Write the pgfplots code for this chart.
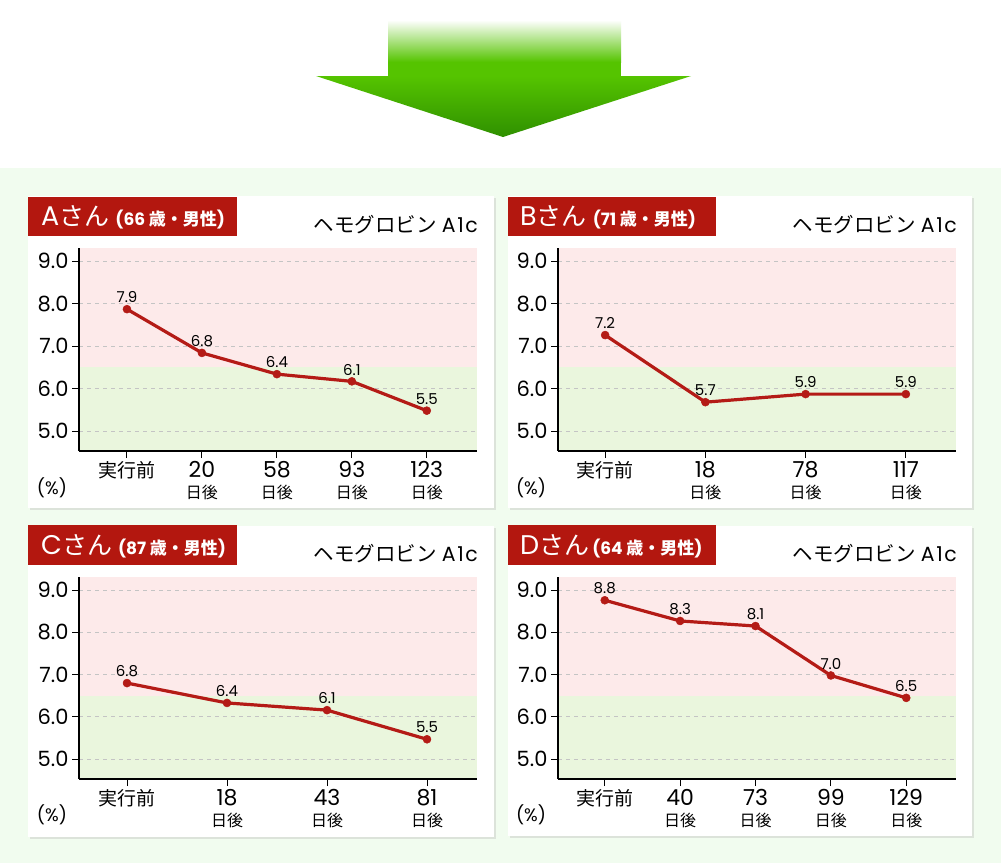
\documentclass[border=0pt]{standalone}
\usepackage{fontspec}
\setmainfont{Poppins}
\newfontfamily\jp{Noto Sans CJK JP}
\usepackage{pgfplots}
\pgfplotsset{compat=1.18}
\definecolor{mint}{HTML}{F1FCEF}
\definecolor{pinkband}{HTML}{FDEAEA}
\definecolor{greenband}{HTML}{EAF6DD}
\definecolor{titlered}{HTML}{B3170F}
\definecolor{linered}{HTML}{B41B16}
\definecolor{agreen}{HTML}{55C400}
\definecolor{dgreen}{HTML}{2F9000}
\definecolor{gridgray}{HTML}{C4C4C4}
\definecolor{shadowgray}{HTML}{DCE3DA}

\tikzset{gridl/.style={gridgray, dash pattern=on 4pt off 4pt, line width=0.9pt}}
\pgfplotsset{panel/.style={
  scale only axis, width=398pt, anchor=south west, axis on top,
  ymin=4.53, ymax=9.31,
  axis x line*=bottom, axis y line*=left,
  axis line style={line width=2pt, black, -},
  ytick={5,6,7,8,9}, yticklabels={5.0,6.0,7.0,8.0,9.0},
  yticklabel style={font=\fontsize{21}{21}\selectfont},
  tick align=outside, major tick length=7pt, tick style={line width=1pt, black},
  xticklabel style={align=center, font=\fontsize{22}{22}\selectfont},
  every node near coord/.append style={anchor=south, inner sep=0pt, yshift=6pt, font=\fontsize{15}{15}\selectfont, black},
},
dataline/.style={linered, line width=3.2pt, line join=round, mark=*, mark size=4pt,
  mark options={fill=linered, draw=linered, line width=0.5pt},
  nodes near coords, point meta=explicit symbolic}
}
\newcommand{\nd}[1]{#1\\[-1pt]{\jp\fontsize{16}{16}\selectfont 日後}}
\newcommand{\pre}{{\jp\fontsize{19}{19}\selectfont 実行前}}
\newcommand{\bands}[2]{%
  \fill[pinkband] (#1,6.5) rectangle (#2,9.31);
  \fill[greenband] (#1,4.53) rectangle (#2,6.5);
  \draw[gridl] (#1,5) -- (#2,5);
  \draw[gridl] (#1,6) -- (#2,6);
  \draw[gridl] (#1,7) -- (#2,7);
  \draw[gridl] (#1,8) -- (#2,8);
  \draw[gridl] (#1,9) -- (#2,9);
}

\begin{document}
\begin{tikzpicture}
\begin{scope}[x=1pt,y=-1pt]
  % page background
  \fill[mint] (0,0) rectangle (1001,863);
  \fill[white] (0,0) rectangle (1001,168);
  % arrow
  \shade[top color=white, bottom color=agreen] (388,20) rectangle (621,62);
  \fill[agreen] (388,61.5) rectangle (621,77);
  \shade[top color=agreen, bottom color=dgreen] (316,76) -- (691,76) -- (503,137) -- cycle;
  % cards
  \foreach \cx/\cy/\cw/\ch in {28/196/466/312, 508/196/464/312, 28/526/466/311, 508/526/464/310}{
    \fill[shadowgray] (\cx+2,\cy+2) rectangle (\cx+\cw+2,\cy+\ch+2);
    \fill[white] (\cx,\cy) rectangle (\cx+\cw,\cy+\ch);
  }
  % title boxes
  \fill[titlered] (28,197) rectangle (237,236);
  \fill[titlered] (508,197) rectangle (716,236);
  \fill[titlered] (28,525) rectangle (237,565);
  \fill[titlered] (508,525) rectangle (716,565);
  \node[anchor=west, white, inner sep=0pt] at (41,217) {\fontsize{27}{27}\selectfont A{\jp\fontsize{25}{25}\selectfont さん}\hspace{6pt}\fontsize{17}{17}\selectfont\bfseries (66 {\jp 歳・男性})};
  \node[anchor=west, white, inner sep=0pt] at (520,217) {\fontsize{27}{27}\selectfont B{\jp\fontsize{25}{25}\selectfont さん}\hspace{6pt}\fontsize{17}{17}\selectfont\bfseries (71 {\jp 歳・男性})};
  \node[anchor=west, white, inner sep=0pt] at (41,546) {\fontsize{27}{27}\selectfont C{\jp\fontsize{25}{25}\selectfont さん}\hspace{6pt}\fontsize{17}{17}\selectfont\bfseries (87 {\jp 歳・男性})};
  \node[anchor=west, white, inner sep=0pt] at (520,546) {\fontsize{27}{27}\selectfont D{\jp\fontsize{25}{25}\selectfont さん}\hspace{3pt}\fontsize{17}{17}\selectfont\bfseries (64 {\jp 歳・男性})};
  % right titles
  \foreach \tx/\ty in {478/225, 957/225, 478/554, 957/554}{
    \node[anchor=east, inner sep=0pt] at (\tx,\ty) {\fontsize{20.5}{20.5}\selectfont{\jp ヘモグロビン} A\hspace{1.5pt}1\hspace{1.5pt}c};
  }
  % (%) labels
  \foreach \tx/\ty in {52/488, 531/488, 52/815, 531/815}{
    \node[inner sep=0pt] at (\tx,\ty) {\fontsize{18}{18}\selectfont (\%)};
  }
\end{scope}

% ---- Panel A ----
\begin{axis}[panel, at={(79pt,-451pt)}, height=203pt, xmin=-0.64, xmax=4.67,
  xtick={0,1,2,3,4}, xticklabels={\pre,\nd{20},\nd{58},\nd{93},\nd{123}}]
  \bands{-0.64}{4.67}
  \addplot[dataline] table[meta=label, row sep=\\] {
    x y label \\
    0 7.87 7.9 \\
    1 6.84 6.8 \\
    2 6.34 6.4 \\
    3 6.17 6.1 \\
    4 5.48 5.5 \\
  };
\end{axis}

% ---- Panel B ----
\begin{axis}[panel, at={(558pt,-451pt)}, height=203pt, xmin=-0.47, xmax=3.5,
  xtick={0,1,2,3}, xticklabels={\pre,\nd{18},\nd{78},\nd{117}}]
  \bands{-0.47}{3.5}
  \addplot[dataline] table[meta=label, row sep=\\] {
    x y label \\
    0 7.26 7.2 \\
    1 5.68 5.7 \\
    2 5.87 5.9 \\
    3 5.87 5.9 \\
  };
\end{axis}

% ---- Panel C ----
\begin{axis}[panel, at={(79pt,-779pt)}, height=202pt, xmin=-0.48, xmax=3.5,
  xtick={0,1,2,3}, xticklabels={\pre,\nd{18},\nd{43},\nd{81}}]
  \bands{-0.48}{3.5}
  \addplot[dataline] table[meta=label, row sep=\\] {
    x y label \\
    0 6.80 6.8 \\
    1 6.33 6.4 \\
    2 6.16 6.1 \\
    3 5.47 5.5 \\
  };
\end{axis}

% ---- Panel D ----
\begin{axis}[panel, at={(558pt,-779pt)}, height=202pt, xmin=-0.62, xmax=4.66,
  xtick={0,1,2,3,4}, xticklabels={\pre,\nd{40},\nd{73},\nd{99},\nd{129}}]
  \bands{-0.62}{4.66}
  \addplot[dataline] table[meta=label, row sep=\\] {
    x y label \\
    0 8.76 8.8 \\
    1 8.27 8.3 \\
    2 8.15 8.1 \\
    3 6.98 7.0 \\
    4 6.45 6.5 \\
  };
\end{axis}
\end{tikzpicture}
\end{document}
